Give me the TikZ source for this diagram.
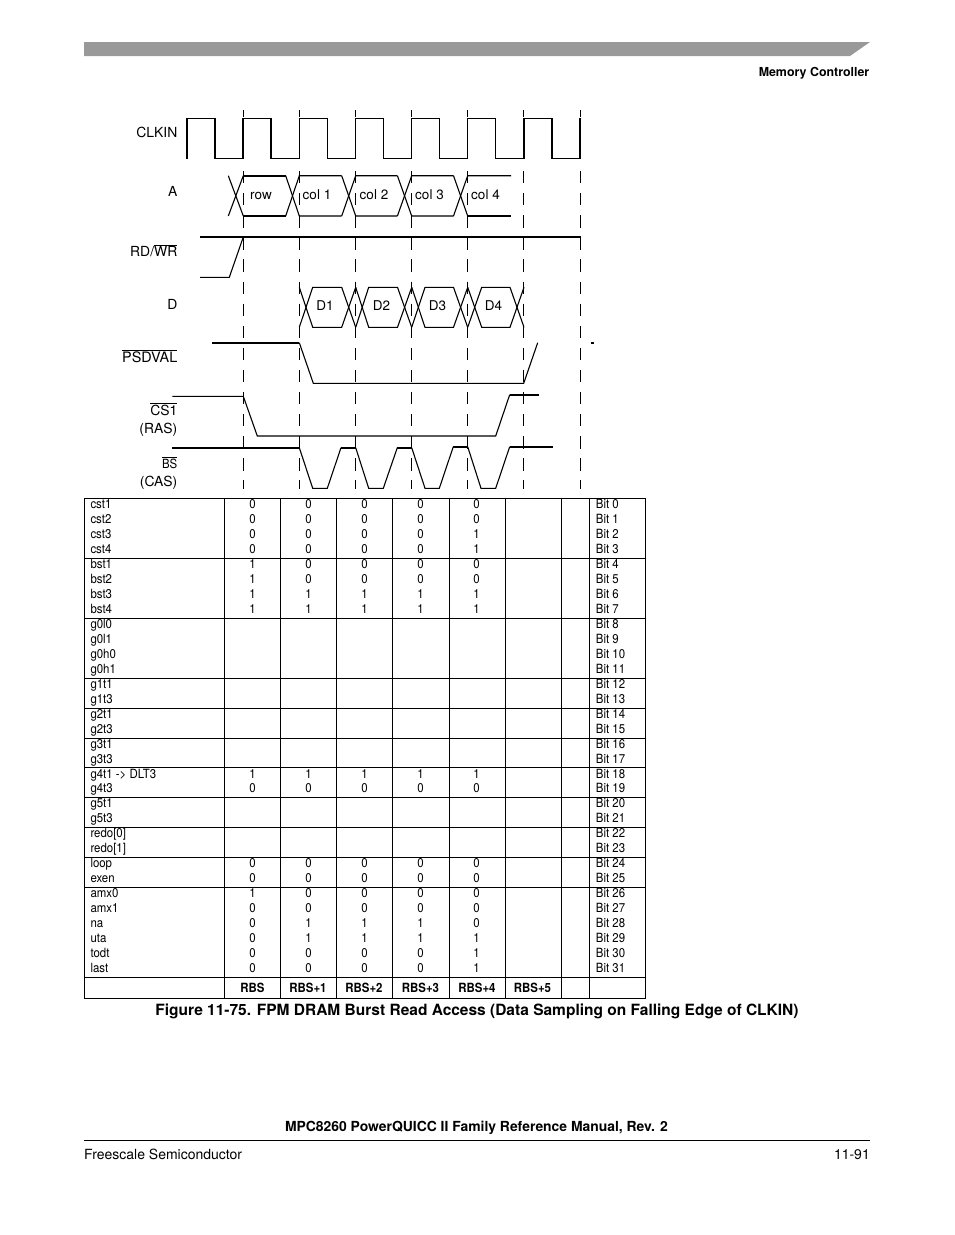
\documentclass[tikz,border=0pt]{standalone}
\usepackage{fontspec}
\setmainfont{TeX Gyre Heros}
\newfontfamily\narrowf[FakeStretch=0.9]{TeX Gyre Heros}
\newcommand\ovl[1]{\leavevmode\vbox{\hrule height .8pt \kern .7pt\hbox{#1}}}
\tikzset{
  thin sig/.style={line width=1.1pt,line join=miter},
  thick sig/.style={line width=1.8pt},
  grid line/.style={line width=1pt,line cap=rect},
  guide/.style={line width=1.1pt,dash pattern=on 12.3pt off 9.8pt},
  lab/.style={anchor=base east,inner sep=0pt,font=\fontsize{13.9}{16}\selectfont},
  wave text/.style={anchor=base,inner sep=0pt,font=\fontsize{13.5}{16}\selectfont},
  cell/.style={anchor=base,inner sep=0pt,font=\narrowf\fontsize{12.7}{15}\selectfont},
  left cell/.style={cell,anchor=base west},
  head cell/.style={anchor=base,inner sep=0pt,font=\narrowf\bfseries\fontsize{12.7}{15}\selectfont},
}
\begin{document}
\begin{tikzpicture}[x=1pt,y=-1pt]
\useasboundingbox (0,0) rectangle (954,1235);
\fill[white] (0,0) rectangle (954,1235);
% page furniture
\fill[black!40] (84,42) -- (870,42) -- (850,56) -- (84,56) -- cycle;
\node[anchor=base east,inner sep=0pt,font=\bfseries\fontsize{12.4}{15}\selectfont] (hdr) at (869.5,76) {Memory Controller};
\node[anchor=base,inner sep=0pt,font=\bfseries\fontsize{15.5}{18}\selectfont] (cap) at (477,1015.3) {Figure 11-75. FPM DRAM Burst Read Access (Data Sampling on Falling Edge of CLKIN)};
\node[anchor=base,inner sep=0pt,font=\bfseries\fontsize{13.9}{16}\selectfont] (man) at (476.5,1131) {MPC8260 PowerQUICC II Family Reference Manual, Rev. 2};
\draw[line width=.8pt] (84,1140.5) -- (870,1140.5);
\node[anchor=base west,inner sep=0pt,font=\fontsize{14}{16}\selectfont] (fs) at (84,1159) {Freescale Semiconductor};
\node[anchor=base east,inner sep=0pt,font=\fontsize{14}{16}\selectfont] (pg) at (870,1159) {11-91};
% guides
\foreach \x in {243.3,299.3,355.7,411.7,467.7,523.7,580.3}{
  \draw[line width=1.1pt] (\x,110) -- (\x,117);
  \draw[guide] (\x,171) -- (\x,488.5);
}
% labels
\node[lab] (lclk) at (177.5,137.3) {CLKIN};
\node[lab] (la) at (177.5,196) {A};
\node[lab] (lrd) at (177.5,256.3) {RD/\ovl{WR}};
\node[lab] (ld) at (177.5,309.3) {D};
\node[lab,font=\fontsize{14.4}{16}\selectfont] (lps) at (177.5,362.3) {\ovl{PSDVAL}};
\node[lab] (lcs) at (177.5,415.3) {\ovl{CS1}};
\node[lab] (lras) at (177.5,433.3) {(RAS)};
\node[lab,font=\narrowf\fontsize{12.7}{15}\selectfont] (lbs) at (177.5,468) {\ovl{BS}};
\node[lab] (lcas) at (177.5,486.7) {(CAS)};
% CLKIN
\draw[thick sig] (186.7,158.7) -- (186.7,118.3);
\draw[thin sig] (186.7,118.3) -- (215,118.3);
\draw[thick sig] (215,118.3) -- (215,158.7);
\draw[thin sig] (215,158.7) -- (243.3,158.7);
\draw[thick sig] (243.3,158.7) -- (243.3,118.3);
\draw[thin sig] (243.3,118.3) -- (271,118.3);
\draw[thick sig] (271,118.3) -- (271,158.7);
\draw[thin sig] (271,158.7) -- (299.3,158.7) -- (299.3,118.3) -- (327.5,118.3) -- (327.5,158.7) -- (355.7,158.7) -- (355.7,118.3) -- (383.3,118.3) -- (383.3,158.7) -- (411.7,158.7) -- (411.7,118.3) -- (439.3,118.3) -- (439.3,158.7) -- (467.7,158.7) -- (467.7,118.3) -- (495.7,118.3) -- (495.7,158.7) -- (523.7,158.7);
\draw[thick sig] (523.7,158.7) -- (523.7,118.3);
\draw[thin sig] (523.7,118.3) -- (552.3,118.3);
\draw[thick sig] (552.3,118.3) -- (552.3,158.7);
\draw[thin sig] (552.3,158.7) -- (580.3,158.7);
\draw[thick sig] (580.3,158.7) -- (580.3,118.3);
% A
\draw[thin sig] (228.3,175.7) -- (243.3,216);
\draw[thin sig] (228.3,216) -- (243.3,175.7);
\draw[thick sig] (243.3,175.7) -- (285.7,175.7);
\draw[thick sig] (243.3,216) -- (285.7,216);
\draw[thin sig] (285.7,175.7) -- (299.3,216) -- (341.7,216);
\draw[thin sig] (285.7,216) -- (299.3,175.7) -- (341.7,175.7);
\draw[thin sig] (341.7,175.7) -- (355.7,216) -- (397.4,216);
\draw[thin sig] (341.7,216) -- (355.7,175.7) -- (397.4,175.7);
\draw[thin sig] (397.4,175.7) -- (411.7,216) -- (453.5,216);
\draw[thin sig] (397.4,216) -- (411.7,175.7) -- (453.5,175.7);
\draw[thin sig] (453.5,175.7) -- (467.7,216);
\draw[thin sig] (453.5,216) -- (467.7,175.7) -- (511,175.7);
\draw[thick sig] (467.7,216) -- (511,216);
\node[wave text] (row) at (261,199) {row};
\node[wave text] (c1) at (317,199) {col 1};
\node[wave text] (c2) at (374,199) {col 2};
\node[wave text] (c3) at (429.5,199) {col 3};
\node[wave text] (c4) at (485.5,199) {col 4};
% RD/WR
\draw[thin sig] (200,237) -- (580.3,237) -- (580.3,243);
\draw[thin sig] (200,277.3) -- (229.3,277.3) -- (243.3,237);
% D
\foreach \a/\b/\c/\d in {299.3/312.7/341.7/355.7,355.7/368.7/397.5/411.7,411.7/425/453.5/467.7,467.7/481.7/510/524}{
  \draw[thin sig] (\a,287.3) -- (\b,327.3) -- (\c,327.3) -- (\d,287.3);
  \draw[thin sig] (\a,327.3) -- (\b,287.3) -- (\c,287.3) -- (\d,327.3);
}
\node[wave text] (d1) at (325,310) {D1};
\node[wave text] (d2) at (381.5,310) {D2};
\node[wave text] (d3) at (437.5,310) {D3};
\node[wave text] (d4) at (493.5,310) {D4};
% PSDVAL
\draw[thick sig] (212.3,342.7) -- (299.3,342.7);
\draw[thin sig] (299.3,342.7) -- (313.3,383.3) -- (523.7,383.3) -- (537.7,342.7);
\draw[thick sig] (591,342.7) -- (594,342.7);
% CS1
\draw[thin sig] (172.3,396.3) -- (243.3,396.3) -- (257.3,436) -- (495.7,436) -- (509.7,394.7);
\draw[thick sig] (509.7,394.7) -- (539,394.7);
% BS
\draw[thick sig] (172.3,447.7) -- (299.3,447.7);
\draw[thin sig] (299.3,447.7) -- (312.7,488.3) -- (327.3,488.3) -- (341,447.7);
\draw[thick sig] (341,447.7) -- (355.7,447.7);
\draw[thin sig] (355.7,447.7) -- (368.7,488.3) -- (383.3,488.3) -- (397.3,447.7);
\draw[thick sig] (397.3,447.7) -- (411.7,447.7);
\draw[thin sig] (411.7,447.7) -- (425,488.3) -- (439.3,488.3) -- (453.3,446.7);
\draw[thick sig] (453.3,446.7) -- (467.7,446.7);
\draw[thin sig] (467.7,446.7) -- (481,488.3) -- (495.7,488.3) -- (509.7,446.7);
\draw[thick sig] (509.7,446.7) -- (552.7,446.7);
% table text
\foreach \t/\i/\nm/\bt/\va/\vb/\vc/\vd/\ve [count=\k] in {
 498.3/0/cst1/0/0/0/0/0/0, 498.3/1/cst2/1/0/0/0/0/0, 498.3/2/cst3/2/0/0/0/0/1, 498.3/3/cst4/3/0/0/0/0/1,
 558.3/0/bst1/4/1/0/0/0/0, 558.3/1/bst2/5/1/0/0/0/0, 558.3/2/bst3/6/1/1/1/1/1, 558.3/3/bst4/7/1/1/1/1/1,
 618.3/0/g0l0/8/////, 618.3/1/g0l1/9/////, 618.3/2/g0h0/10/////, 618.3/3/g0h1/11/////,
 678.3/0/g1t1/12/////, 678.3/1/g1t3/13/////,
 708.1/0/g2t1/14/////, 708.1/1/g2t3/15/////,
 738/0/g3t1/16/////, 738/1/g3t3/17/////,
 767.9/0/{g4t1 -> DLT3}/18/1/1/1/1/1, 767.9/1/g4t3/19/0/0/0/0/0,
 797.8/0/g5t1/20/////, 797.8/1/g5t3/21/////,
 827.6/0/{redo[0]}/22/////, 827.6/1/{redo[1]}/23/////,
 857.4/0/loop/24/0/0/0/0/0, 857.4/1/exen/25/0/0/0/0/0,
 887.3/0/amx0/26/1/0/0/0/0, 887.3/1/amx1/27/0/0/0/0/0, 887.3/2/na/28/0/1/1/1/0,
 887.3/3/uta/29/0/1/1/1/1, 887.3/4/todt/30/0/0/0/0/1, 887.3/5/last/31/0/0/0/0/1}{
  \pgfmathsetmacro\yb{\t+10.1+14.95*\i}
  \node[left cell] (nm\k) at (90.3,\yb) {\nm};
  \node[left cell] (bit\k) at (595.7,\yb) {Bit \bt};
  \node[cell] (va\k) at (252.5,\yb) {\va};
  \node[cell] (vb\k) at (308.5,\yb) {\vb};
  \node[cell] (vc\k) at (364.5,\yb) {\vc};
  \node[cell] (vd\k) at (420.5,\yb) {\vd};
  \node[cell] (ve\k) at (476.5,\yb) {\ve};
}
\foreach \x/\s in {252.5/RBS,308/RBS+1,364/RBS+2,420.5/RBS+3,477/RBS+4,532.5/RBS+5}{
  \node[head cell] (h\s) at (\x,992) {\s};
}
% table grid
\foreach \y in {498.3,558.3,618.3,678.3,708.1,738,767.9,797.8,827.6,857.4,887.3,977.7,998}{
  \draw[grid line] (84.3,\y) -- (645.7,\y);
}
\foreach \x in {84.3,224.3,280.3,336.3,392.3,449.3,505.3,561.3,589.3,645.7}{
  \draw[grid line] (\x,498.3) -- (\x,998);
}
\end{tikzpicture}
\end{document}
